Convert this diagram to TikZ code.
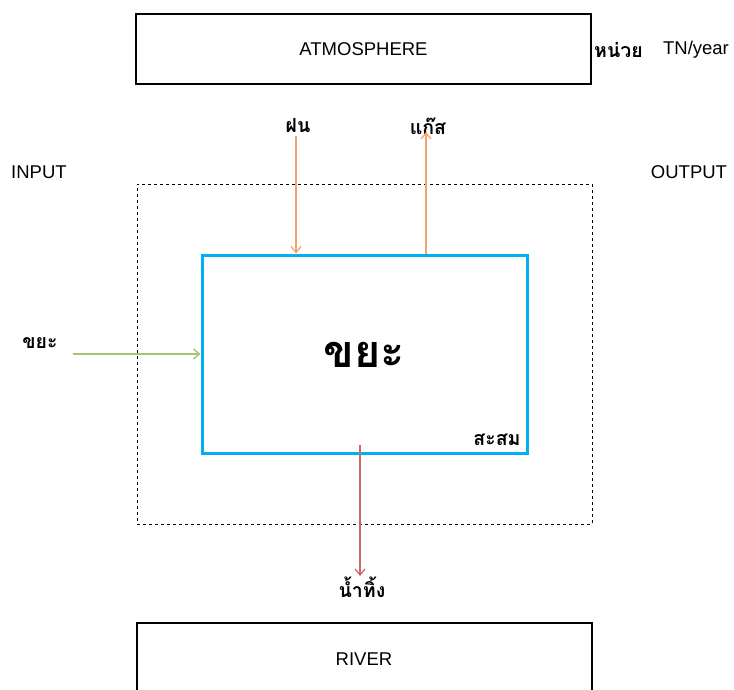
\documentclass[tikz,border=0pt]{standalone}
\usepackage{fontspec}
\setmainfont{Liberation Sans}
\newfontfamily\thaifont[Script=Thai]{Loma}
\usetikzlibrary{arrows.meta}
\definecolor{poolblue}{HTML}{00B0F0}
\definecolor{airflow}{HTML}{F2A46E}
\definecolor{feedflow}{HTML}{A5C373}
\definecolor{drainflow}{HTML}{CC6A6A}
\begin{document}
\begin{tikzpicture}[x=1pt,y=-1pt,
  frame/.style={draw=black, line width=2pt, minimum width=455pt, inner sep=0pt},
  lbl/.style={inner sep=0pt, font=\fontsize{18.5}{20}\selectfont},
  thlbl/.style={inner sep=0pt, font=\thaifont\fontsize{19.5}{22}\selectfont\bfseries},
  flow/.style={line width=1.3pt, -{Straight Barb[length=6pt,width=10pt]}}]
\clip (0,0) rectangle (734,690);
% reservoirs above and below
\node[frame, minimum height=70pt, lbl] (atm) at (363.5,49) {ATMOSPHERE};
\node[frame, minimum height=77pt, lbl] (river) at (364,661.5) {};
\node[lbl] (rivertxt) at (364,659) {RIVER};
% system boundary and the waste pile
\node[draw, dashed, line width=0.8pt, minimum width=455pt, minimum height=340pt, inner sep=0pt] (system) at (364.5,354) {};
\node[draw=poolblue, line width=3pt, minimum width=325pt, minimum height=198pt, inner sep=0pt] (pile) at (364.5,354) {};
\node[inner sep=0pt, font=\thaifont\fontsize{45}{50}\selectfont\bfseries] (piletxt) at (364,355) {ขยะ};
\node[thlbl] (stock) at (497,440) {สะสม};
% side labels
\node[lbl] (input) at (39,172) {INPUT};
\node[lbl] (output) at (689,172) {OUTPUT};
\node[thlbl] (unit) at (618.5,50) {หน่วย};
\node[lbl] (unitval) at (696,50) {TN/year};
% flow labels
\node[thlbl] (rain) at (298,126) {ฝน};
\node[thlbl] (gas) at (428,126) {แก๊ส};
\node[thlbl] (waste) at (40,343) {ขยะ};
\node[thlbl] (effluent) at (362,587) {น้ำทิ้ง};
% flows
\coordinate (rainstart) at (296,136);
\coordinate (gastop) at (426,132);
\coordinate (wastestart) at (73,354);
\coordinate (drainstart) at (360,445);
\coordinate (drainend) at (360,576);
\draw[flow, airflow] (rainstart) -- (rainstart |- pile.north);
\draw[flow, airflow] (gastop |- pile.north) -- (gastop);
\draw[flow, feedflow] (wastestart) -- (pile.west |- wastestart);
\draw[flow, drainflow] (drainstart) -- (drainend);
\end{tikzpicture}
\end{document}
